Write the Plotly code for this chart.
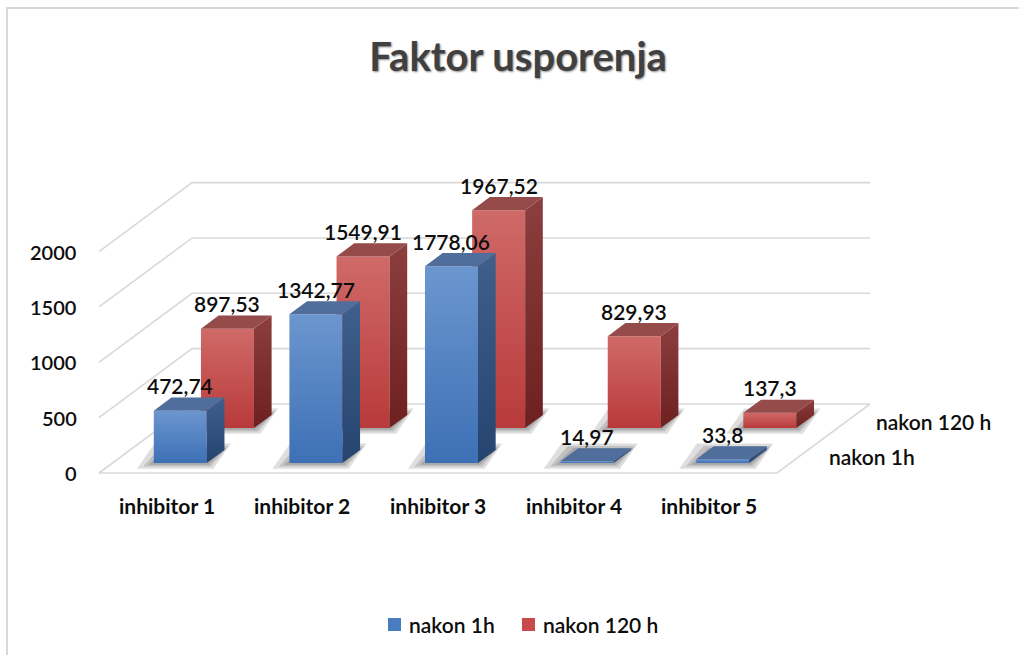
import plotly.graph_objects as go

# ---- data -------------------------------------------------------------
categories = ["inhibitor 1", "inhibitor 2", "inhibitor 3", "inhibitor 4", "inhibitor 5"]
series_names = ["nakon 1h", "nakon 120 h"]
values_1h = [472.74, 1342.77, 1778.06, 14.97, 33.8]
values_120h = [897.53, 1549.91, 1967.52, 829.93, 137.3]
y_ticks = [0, 500, 1000, 1500, 2000]
y_tick_text = ["0", "500", "1000", "1500", "2000"]
chart_title = "Faktor usporenja"

# ---- geometry of the oblique 3D box -----------------------------------
W, H = 1019, 655
PX_PER_UNIT = 0.1107          # vertical scale (pixels per value unit)
FLOOR_Y = 473                 # pixel row of value 0 on the front edge
FLOOR_X = 99                  # pixel column of the front-left corner
CAT_PX = 135.6                # width of one category on the front edge
DEPTH_PX = (93, 69)           # offset from front to back wall

DX = DEPTH_PX[0] / CAT_PX     # depth offset in x-axis units
DY = DEPTH_PX[1] / PX_PER_UNIT  # depth offset in y-axis units
N = len(categories)
BAR_W = 53 / CAT_PX
BAR_DEPTH = 0.19
FONT = "Lato"
TEXT = "#0d0d0d"
GRID = "#d9d9d9"

rows = [
    dict(name=series_names[0], values=values_1h, depth=0.145,
         front=[[0, "#3d70b5"], [1, "#6c96cf"]],
         side=[[0, "#25446f"], [1, "#3f5f8c"]],
         top="#4f6e9c", legend="#4a7cc2"),
    dict(name=series_names[1], values=values_120h, depth=0.652,
         front=[[0, "#b93a3a"], [1, "#cf6a68"]],
         side=[[0, "#6e1f1f"], [1, "#8c3f3e"]],
         top="#954b4a", legend="#c94a4a"),
]

fig = go.Figure()


def poly(xs, ys, **kw):
    fig.add_trace(go.Scatter(x=xs + [xs[0]], y=ys + [ys[0]], mode="lines",
                             fill="toself", line=dict(width=0),
                             hoverinfo="skip", showlegend=False, **kw))


def line(xs, ys):
    fig.add_trace(go.Scatter(x=xs, y=ys, mode="lines",
                             line=dict(color=GRID, width=1.6),
                             hoverinfo="skip", showlegend=False))


def label_font(size, weight=600):
    return dict(family=FONT, size=size, color=TEXT, weight=weight)


# walls: gridlines on the left wall and the back wall
for v in y_ticks:
    line([0, DX, N + DX], [v, v + DY, v + DY])
# floor outline
line([0, N, N + DX], [0, 0, DY])

# bars, back row first so the front row overlaps it
for row in reversed(rows):
    f = row["depth"]
    base = f * DY
    ddx, ddy = BAR_DEPTH * DX, BAR_DEPTH * DY
    for i, v in enumerate(row["values"]):
        xc = i + 0.5 + f * DX
        xl, xr = xc - BAR_W / 2, xc + BAR_W / 2
        # soft shadow on the floor
        for e in (13, 8, 4):
            ex, ey = e / CAT_PX, e / PX_PER_UNIT
            poly([xl - ex * 1.3, xr + ex * 0.5, xr + ddx + ex * 0.5, xl + ddx - ex * 1.3],
                 [base - ey * 0.45, base - ey * 0.45, base + ddy + ey * 0.5, base + ddy + ey * 0.5],
                 fillcolor="rgba(0,0,0,0.13)")
        top = base + v
        # front face
        poly([xl, xr, xr, xl], [base, base, top, top],
             fillgradient=dict(type="vertical", colorscale=row["front"]))
        # right side face
        poly([xr, xr + ddx, xr + ddx, xr], [base, base + ddy, top + ddy, top],
             fillgradient=dict(type="vertical", colorscale=row["side"]))
        # top face
        poly([xl, xr, xr + ddx, xl + ddx], [top, top, top + ddy, top + ddy],
             fillcolor=row["top"])
        fig.add_annotation(x=xc, y=top, yanchor="middle", yshift=25, showarrow=False,
                           text=f"{v:g}".replace(".", ","), font=label_font(21))

# value axis labels
for v, t in zip(y_ticks, y_tick_text):
    fig.add_annotation(x=0, y=v, xanchor="right", xshift=-20, showarrow=False,
                       text=t, font=label_font(20))

# category labels along the front edge
for i, c in enumerate(categories):
    fig.add_annotation(x=i + 0.5, y=-32 / PX_PER_UNIT, showarrow=False, text=c,
                       font=label_font(21, "bold"))

# series labels along the right edge of the floor
for row in rows:
    fc = row["depth"] + BAR_DEPTH / 2
    fig.add_annotation(x=N + fc * DX, y=fc * DY, xanchor="left", xshift=28,
                       showarrow=False, text=row["name"], font=label_font(21))

# legend
legend_pos = [(388, 407), (522, 541)]
for row, (sx, tx) in zip(rows, legend_pos):
    fig.add_shape(type="rect", xref="paper", yref="paper",
                  x0=sx / W, x1=(sx + 13) / W, y0=1 - 631 / H, y1=1 - 618 / H,
                  fillcolor=row["legend"], line=dict(width=0))
    fig.add_annotation(xref="paper", yref="paper", x=tx / W, y=1 - 624 / H,
                       xanchor="left", yanchor="middle", showarrow=False,
                       text=row["name"], font=label_font(21))

# chart border
fig.add_shape(type="rect", xref="paper", yref="paper",
              x0=7 / W, x1=1.05, y0=-0.05, y1=1 - 8 / H,
              line=dict(color=GRID, width=2), fillcolor="rgba(0,0,0,0)")

fig.update_layout(
    width=W, height=H,
    margin=dict(l=0, r=0, t=0, b=0),
    paper_bgcolor="white", plot_bgcolor="white",
    showlegend=False,
    title=dict(text=chart_title, x=518 / W, xanchor="center",
               y=1 - 57 / H, yanchor="middle",
               font=dict(family=FONT, size=40, color="#404040", weight="bold",
                         shadow="1px 1px 2px #8c8c8c")),
    xaxis=dict(range=[-FLOOR_X / CAT_PX, (W - FLOOR_X) / CAT_PX], visible=False, fixedrange=True),
    yaxis=dict(range=[-(H - FLOOR_Y) / PX_PER_UNIT, FLOOR_Y / PX_PER_UNIT], visible=False, fixedrange=True),
)

fig.write_html("out.html")
